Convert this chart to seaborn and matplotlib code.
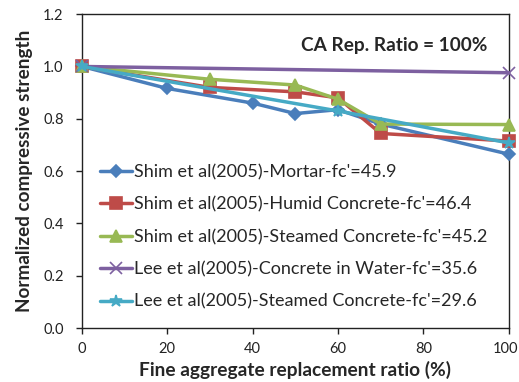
import matplotlib
matplotlib.use("Agg")
import matplotlib.pyplot as plt
import matplotlib.transforms as mtransforms
import seaborn as sns
import pandas as pd

sns.set_style("ticks")
plt.rcParams['font.family'] = ['Lato', 'DejaVu Sans']

series_names = [
    "Shim et al(2005)-Mortar-fc'=45.9",
    "Shim et al(2005)-Humid Concrete-fc'=46.4",
    "Shim et al(2005)-Steamed Concrete-fc'=45.2",
    "Lee et al(2005)-Concrete in Water-fc'=35.6",
    "Lee et al(2005)-Steamed Concrete-fc'=29.6",
]
mortar_x = [0, 20, 40, 50, 60, 70, 100]
mortar_y = [1.0, 0.916, 0.86, 0.82, 0.835, 0.78, 0.665]
humid_x = [0, 30, 50, 60, 70, 100]
humid_y = [1.0, 0.92, 0.903, 0.88, 0.744, 0.715]
steamed_x = [0, 30, 50, 60, 70, 100]
steamed_y = [1.0, 0.951, 0.929, 0.875, 0.78, 0.778]
water_x = [0, 100]
water_y = [1.0, 0.976]
lee_steamed_x = [0, 60, 100]
lee_steamed_y = [1.0, 0.83, 0.708]
x_ticks = [0, 20, 40, 60, 80, 100]
y_ticks = [0.0, 0.2, 0.4, 0.6, 0.8, 1.0, 1.2]

xs = [mortar_x, humid_x, steamed_x, water_x, lee_steamed_x]
ys = [mortar_y, humid_y, steamed_y, water_y, lee_steamed_y]
colors = ["#4A7EBB", "#BE4B48", "#98B954", "#7D60A0", "#46AAC5"]
markers = ["D", "s", "^", "x", "*"]
msizes = [6, 8, 8, 9, 9]

fig = plt.figure(figsize=(5.19, 3.82), dpi=100)
ax = fig.add_axes([0.158, 0.141, 0.822, 0.822])

for name, x, y, c, m, ms in zip(series_names, xs, ys, colors, markers, msizes):
    df = pd.DataFrame({"x": x, "y": y})
    sns.lineplot(data=df, x="x", y="y", ax=ax, color=c, marker=m,
                 markersize=ms, markeredgecolor=c, markeredgewidth=1.2,
                 linewidth=2.5, label=name, sort=False, clip_on=False, zorder=3)

ax.set_xlim(0, 100)
ax.set_ylim(0, 1.2)
ax.set_xticks(x_ticks)
ax.set_yticks(y_ticks)
ax.set_yticklabels([f"{v:.1f}" for v in y_ticks])
ax.tick_params(direction="out", length=4.3, width=1, labelsize=10.5, colors="#222222")
ax.tick_params(axis="y", pad=9)
ax.tick_params(axis="x", pad=6)
for s in ax.spines.values():
    s.set_color("#222222")
    s.set_linewidth(1)

fig.canvas.draw()
last = ax.get_xticklabels()[-1]
last.set_transform(last.get_transform() + mtransforms.ScaledTranslation(-3 / 100, 0, fig.dpi_scale_trans))

ax.set_xlabel("Fine aggregate replacement ratio (%)", fontsize=13.8, fontweight="bold", labelpad=3)
ax.set_ylabel("Normalized compressive strength", fontsize=13.6, fontweight="bold", labelpad=7)

ax.text(0.95, 0.9, "CA Rep. Ratio = 100%", transform=ax.transAxes, ha="right", va="center",
        fontsize=13.7, fontweight="bold")

leg = ax.legend(loc="lower left", bbox_to_anchor=(0.025, 0.035), frameon=False, fontsize=13,
                labelspacing=0.9, handlelength=1.8, handletextpad=0.1, borderaxespad=0)

fig.savefig("out.png", dpi=100)
